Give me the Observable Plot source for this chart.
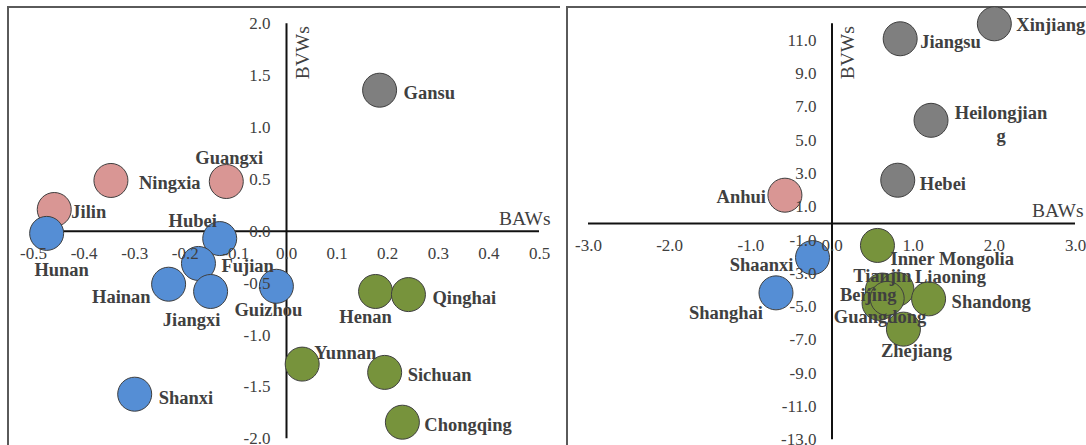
<!DOCTYPE html>
<html>
<head>
<meta charset="utf-8">
<script src="https://cdn.jsdelivr.net/npm/d3@7"></script>
<script src="https://cdn.jsdelivr.net/npm/@observablehq/plot@0.6"></script>
<style>
  html, body { margin: 0; padding: 0; background: #fff; }
  #wrap { position: relative; width: 1086px; height: 445px; overflow: hidden; background: #fff; }
  .frame { position: absolute; border-top: 2px solid #5a5a5a; border-left: 2px solid #5a5a5a; box-sizing: border-box; }
  #wrap svg { position: absolute; top: 0; }
</style>
</head>
<body>
<div id="wrap">
  <div class="frame" style="left:7px; top:6px; width:553px; height:439px;"></div>
  <div class="frame" style="left:566px; top:6px; width:520px; height:439px;"></div>
</div>
<script>
// ---------- Left panel data ----------
const leftNames = ["Gansu","Guangxi","Ningxia","Jilin","Hunan","Hubei","Fujian","Hainan","Jiangxi","Guizhou","Shanxi","Henan","Qinghai","Yunnan","Sichuan","Chongqing"];
const leftBAW   = [0.184, -0.119, -0.347, -0.459, -0.474, -0.132, -0.174, -0.233, -0.150, -0.020, -0.300, 0.176, 0.241, 0.031, 0.194, 0.229];
const leftBVW   = [1.36, 0.48, 0.49, 0.21, -0.02, -0.07, -0.31, -0.51, -0.58, -0.53, -1.57, -0.58, -0.61, -1.28, -1.36, -1.84];
const leftGroup = ["gray","pink","pink","pink","blue","blue","blue","blue","blue","blue","blue","green","green","green","green","green"];
const leftXTicks = [-0.5, -0.4, -0.3, -0.2, -0.1, 0.0, 0.1, 0.2, 0.3, 0.4, 0.5];
const leftYTicks = [-2.0, -1.5, -1.0, -0.5, 0.0, 0.5, 1.0, 1.5, 2.0];

// ---------- Right panel data ----------
const rightNames = ["Xinjiang","Jiangsu","Heilongjiang","Hebei","Anhui","Shaanxi","Shanghai","Inner Mongolia","Tianjin","Liaoning","Guangdong","Beijing","Shandong","Zhejiang"];
const rightBAW   = [2.0, 0.84, 1.22, 0.81, -0.58, -0.24, -0.69, 0.56, 0.62, 0.80, 0.58, 0.68, 1.19, 0.88];
const rightBVW   = [12.0, 11.1, 6.2, 2.6, 1.7, -2.05, -4.17, -1.32, -4.0, -3.95, -4.8, -4.5, -4.53, -6.35];
const rightGroup = ["gray","gray","gray","gray","pink","blue","blue","green","green","green","green","green","green","green"];
const rightXTicks = [-3, -2, -1, 0, 1, 2, 3];
const rightYTicks = [-13, -11, -9, -7, -5, -3, -1, 1, 3, 5, 7, 9, 11];

// label text overrides (wrapped as in the original)
const labelText = { "Heilongjiang": "Heilongjian\ng" };

// ---------- layout / style (kept separate from data) ----------
const groupColors = { gray: "#7f7f7f", pink: "#d99694", blue: "#558ed5", green: "#77933c" };
const labelPlace = {
  Gansu: [24, 1, "start"], Guangxi: [3, -25, "middle"], Ningxia: [28, 1, "start"], Jilin: [17, 1, "start"],
  Hunan: [15, 35, "middle"], Hubei: [-27, -19, "middle"], Fujian: [23, 1, "start"], Hainan: [-18, 11, "end"],
  Jiangxi: [-19, 27, "middle"], Guizhou: [-8, 22, "middle"], Shanxi: [24, 2, "start"], Henan: [-10, 24, "middle"],
  Qinghai: [24, 2, "start"], Yunnan: [12, -13, "start"], Sichuan: [23, 1, "start"], Chongqing: [22, 1, "start"],
  Xinjiang: [22, 0, "start"], Jiangsu: [20, 2, "start"], Heilongjiang: [70, 3, "middle"], Hebei: [22, 2, "start"],
  Anhui: [-19, 0, "end"], Shaanxi: [-19, 6, "end"], Shanghai: [-13, 19, "end"], "Inner Mongolia": [13, 12, "start"],
  Tianjin: [0, -16, "middle"], Liaoning: [18, -14, "start"], Beijing: [-19, -5, "middle"], Guangdong: [1, 12, "middle"],
  Shandong: [23, 2, "start"], Zhejiang: [13, 20, "middle"]
};

const FONT = "Liberation Serif, Times New Roman, serif";
const TXT = "#404040";

function panel(cfg) {
  const data = cfg.names.map((n, i) => ({ name: n, x: cfg.xs[i], y: cfg.ys[i], g: cfg.groups[i] }));
  const [xmin, xmax] = cfg.xDomain, [ymin, ymax] = cfg.yDomain;
  const labelMarks = data.map(d => {
    const p = labelPlace[d.name];
    return Plot.text([d], {
      x: "x", y: "y", text: dd => labelText[dd.name] || dd.name,
      dx: p[0], dy: p[1], textAnchor: p[2],
      fontSize: 18.5, fontWeight: "bold", fill: TXT, lineHeight: 1.26
    });
  });
  return Plot.plot({
    width: cfg.width, height: 445,
    marginLeft: cfg.mL, marginRight: cfg.mR, marginTop: cfg.mT, marginBottom: cfg.mB,
    x: { domain: cfg.xDomain, axis: null },
    y: { domain: cfg.yDomain, axis: null },
    style: { fontFamily: FONT, background: "transparent", overflow: "visible" },
    marks: [
      Plot.ruleY([0], { x1: () => xmin, x2: () => xmax, stroke: "#111", strokeWidth: 2 }),
      Plot.ruleX([0], { y1: () => ymin, y2: () => ymax, stroke: "#111", strokeWidth: 2 }),
      Plot.dot(data, { x: "x", y: "y", r: 17, fill: d => groupColors[d.g], stroke: "#3f3f3f", strokeWidth: 1 }),
      Plot.text(cfg.xTicks, { x: d => d, y: () => 0, text: d => d.toFixed(1), dy: 22, fontSize: 17, fill: TXT }),
      Plot.text(cfg.yTicks, { x: () => 0, y: d => d, text: d => d.toFixed(1), dx: cfg.yTickDx, textAnchor: "end", fontSize: 17, fill: TXT }),
      Plot.text(["BVWs"], { x: () => 0, y: () => ymax, text: d => d, rotate: -90, dx: 16, dy: 29, fontSize: 19.5, fill: TXT }),
      Plot.text(["BAWs"], { x: () => xmax, y: () => 0, text: d => d, textAnchor: "end", dx: cfg.bawDx, dy: -13, fontSize: 19.5, fill: TXT }),
      ...labelMarks
    ]
  });
}

const left = panel({
  names: leftNames, xs: leftBAW, ys: leftBVW, groups: leftGroup,
  xDomain: [-0.5, 0.5], yDomain: [-2, 2], xTicks: leftXTicks, yTicks: leftYTicks,
  width: 566, mL: 33, mR: 27, mT: 23.3, mB: 6.7, yTickDx: -16, bawDx: 11
});
left.style.left = "0px";

const right = panel({
  names: rightNames, xs: rightBAW, ys: rightBVW, groups: rightGroup,
  xDomain: [-3, 3], yDomain: [-13, 12], xTicks: rightXTicks, yTicks: rightYTicks,
  width: 520, mL: 22, mR: 11, mT: 23.3, mB: 5.7, yTickDx: -15.5, bawDx: 8
});
right.style.left = "566px";

const wrap = document.getElementById("wrap");
wrap.appendChild(left);
wrap.appendChild(right);
</script>
</body>
</html>
